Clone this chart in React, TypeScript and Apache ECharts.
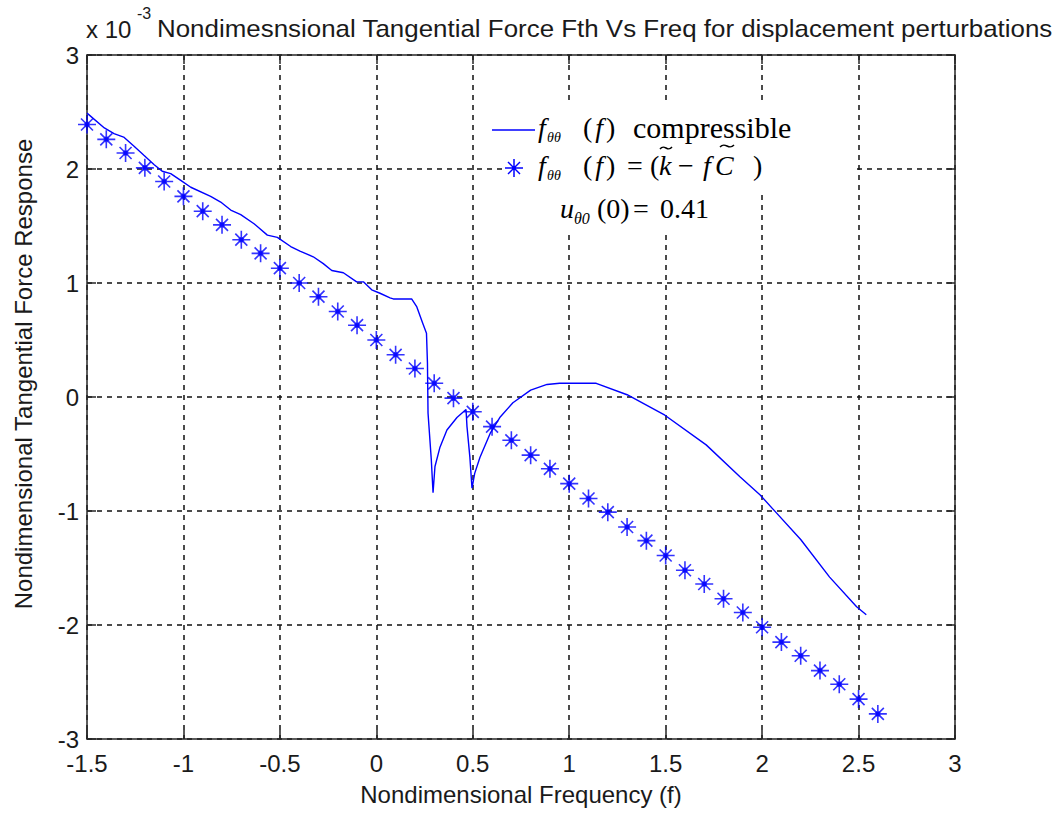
import { useEffect, useRef } from "react";
import * as echarts from "echarts";

// Nondimensional tangential force response vs frequency (values in units of 1e-3)
const curveFreq = [
  -1.5, -1.41, -1.36, -1.31, -1.256, -1.205, -1.153, -1.11, -1.066, -1.014,
  -0.962, -0.859, -0.807, -0.755, -0.703, -0.634, -0.565, -0.513, -0.444, -0.396,
  -0.327, -0.275, -0.231, -0.171, -0.102, -0.067, -0.024, 0.019, 0.071, 0.088,
  0.183, 0.21, 0.24, 0.26, 0.265, 0.268, 0.285, 0.294, 0.304, 0.33,
  0.366, 0.418, 0.465, 0.47, 0.485, 0.496, 0.51, 0.537, 0.59, 0.64,
  0.708, 0.8, 0.885, 0.95, 1.14, 1.3, 1.496, 1.71, 1.885, 1.99,
  2.06, 2.2, 2.35, 2.49, 2.54,
];
const curveForce = [
  2.49, 2.36, 2.31, 2.28, 2.2, 2.12, 2.04, 1.98, 1.96, 1.9,
  1.84, 1.76, 1.71, 1.64, 1.6, 1.52, 1.42, 1.4, 1.32, 1.28,
  1.23, 1.17, 1.11, 1.09, 1.01, 1.01, 0.94, 0.91, 0.87, 0.86,
  0.86, 0.79, 0.65, 0.56, 0.3, -0.14, -0.55, -0.84, -0.61, -0.44,
  -0.29, -0.18, -0.11, -0.26, -0.53, -0.8, -0.67, -0.53, -0.32, -0.18,
  -0.05, 0.06, 0.11, 0.12, 0.12, 0.02, -0.16, -0.42, -0.7, -0.86,
  -0.99, -1.25, -1.58, -1.84, -1.91,
];

// Stiffness/damping estimate (k - fC), sampled every 0.1
const starFreq = [
  -1.5, -1.4, -1.3, -1.2, -1.1, -1.0, -0.9, -0.8, -0.7, -0.6, -0.5,
  -0.4, -0.3, -0.2, -0.1, 0.0, 0.1, 0.2, 0.3, 0.4, 0.5,
  0.6, 0.7, 0.8, 0.9, 1.0, 1.1, 1.2, 1.3, 1.4, 1.5,
  1.6, 1.7, 1.8, 1.9, 2.0, 2.1, 2.2, 2.3, 2.4, 2.5, 2.6,
];
const starForce = [
  2.39, 2.26, 2.14, 2.01, 1.89, 1.76, 1.63, 1.51, 1.38, 1.26, 1.13,
  1.0, 0.88, 0.75, 0.63, 0.5, 0.37, 0.25, 0.12, -0.01, -0.13,
  -0.26, -0.38, -0.51, -0.63, -0.76, -0.89, -1.01, -1.14, -1.26, -1.39,
  -1.52, -1.64, -1.77, -1.89, -2.02, -2.15, -2.27, -2.4, -2.52, -2.65, -2.78,
];

const titleText =
  "Nondimesnsional Tangential Force Fth Vs Freq for displacement perturbations";
const xAxisTitle = "Nondimensional Frequency (f)";
const yAxisTitle = "Nondimensional Tangential Force Response";

const BLUE = "#0000ff";
const SANS = "'Liberation Sans', Arial, sans-serif";
const SERIF = "'Liberation Serif', 'Times New Roman', serif";
const STAR_PATH =
  "path://M0,-9L0,9M-9,0L9,0M-6,-6L6,6M-6,6L6,-6M-2,-2L2,-2L2,2L-2,2Z";

function txt(x: number, y: number, text: string, extra: any = {}) {
  return {
    type: "text",
    x,
    y,
    z: 20,
    style: {
      text,
      fill: "#000",
      fontFamily: SERIF,
      fontSize: 28,
      verticalAlign: "middle",
      ...extra,
    },
  };
}

function italic(x: number, y: number, text: string, size = 28) {
  return txt(x, y, text, { fontStyle: "italic", fontSize: size });
}

function parenF(x: number, y: number) {
  return txt(x, y, "{n|(}{i|f}{n|)}", {
    rich: {
      n: { fontFamily: SERIF, fontSize: 28 },
      i: { fontFamily: SERIF, fontSize: 28, fontStyle: "italic", padding: [0, 3, 0, 3] },
    },
  });
}

// small wavy accent drawn above a letter
function tilde(x: number, y: number, w: number) {
  return {
    type: "bezierCurve",
    z: 20,
    shape: {
      x1: x,
      y1: y + 1,
      x2: x + w,
      y2: y - 1,
      cpx1: x + w * 0.4,
      cpy1: y - 5,
      cpx2: x + w * 0.6,
      cpy2: y + 5,
    },
    style: { stroke: "#000", lineWidth: 1.5, fill: "none" },
  };
}

function legendStar(cx: number, cy: number) {
  const seg = (x1: number, y1: number, x2: number, y2: number) => ({
    type: "line",
    shape: { x1: cx + x1, y1: cy + y1, x2: cx + x2, y2: cy + y2 },
    style: { stroke: BLUE, lineWidth: 1.5 },
    z: 20,
  });
  return {
    type: "group",
    children: [
      seg(0, -9, 0, 9),
      seg(-9, 0, 9, 0),
      seg(-6, -6, 6, 6),
      seg(-6, 6, 6, -6),
      { type: "rect", shape: { x: cx - 2, y: cy - 2, width: 4, height: 4 }, style: { fill: BLUE }, z: 20 },
    ],
  };
}

export default function App() {
  const ref = useRef<HTMLDivElement>(null);

  useEffect(() => {
    if (!ref.current) return;
    const chart = echarts.init(ref.current, undefined, { renderer: "svg" });

    const axisLine = { show: true, onZero: false, lineStyle: { color: "#262626", width: 1.5 } };
    const axisTick = { show: true, inside: true, length: 9, lineStyle: { color: "#262626", width: 1.5 } };
    const splitLine = { show: true, lineStyle: { color: "#111", width: 1.5, type: [5, 5] } };
    const tickLabel = { color: "#1a1a1a", fontFamily: SANS, fontSize: 24 };

    const row1 = 127;
    const row2 = 165;
    const row3 = 208;

    chart.setOption({
      animation: false,
      backgroundColor: "#fff",
      grid: { left: 87, right: 105, top: 55, bottom: 75, containLabel: false },
      xAxis: [
        {
          type: "value",
          min: -1.5,
          max: 3,
          interval: 0.5,
          axisLine,
          axisTick,
          splitLine,
          axisLabel: { ...tickLabel, margin: 12 },
        },
        {
          type: "value",
          position: "top",
          min: -1.5,
          max: 3,
          interval: 0.5,
          axisLine,
          axisTick,
          splitLine: { show: false },
          axisLabel: { show: false },
        },
      ],
      yAxis: [
        {
          type: "value",
          min: -3,
          max: 3,
          interval: 1,
          axisLine,
          axisTick,
          splitLine,
          axisLabel: { ...tickLabel, margin: 8 },
        },
        {
          type: "value",
          position: "right",
          min: -3,
          max: 3,
          interval: 1,
          axisLine,
          axisTick,
          splitLine: { show: false },
          axisLabel: { show: false },
        },
      ],
      series: [
        {
          name: "compressible",
          type: "line",
          data: curveFreq.map((f, i) => [f, curveForce[i]]),
          showSymbol: false,
          symbol: "none",
          lineStyle: { color: BLUE, width: 1.4 },
          z: 3,
        },
        {
          name: "k - fC",
          type: "scatter",
          data: starFreq.map((f, i) => [f, starForce[i]]),
          symbol: STAR_PATH,
          symbolSize: 18,
          itemStyle: { color: BLUE, borderColor: BLUE, borderWidth: 1.6 },
          z: 4,
        },
      ],
      graphic: [
        // title and exponent
        { type: "text", x: 86, y: 29, style: { text: "x 10", font: `24px ${SANS}`, fill: "#1a1a1a", verticalAlign: "middle" } },
        { type: "text", x: 137, y: 13, style: { text: "-3", font: `16px ${SANS}`, fill: "#1a1a1a", verticalAlign: "middle" } },
        {
          type: "text",
          x: 157,
          y: 28,
          scaleX: 1.08,
          style: { text: titleText, font: `24px ${SANS}`, fill: "#1a1a1a", verticalAlign: "middle" },
        },
        // axis titles
        { type: "text", x: 521, y: 794, style: { text: xAxisTitle, font: `24px ${SANS}`, fill: "#1a1a1a", align: "center", verticalAlign: "middle" } },
        {
          type: "text",
          x: 23,
          y: 374,
          rotation: Math.PI / 2,
          style: { text: yAxisTitle, font: `24px ${SANS}`, fill: "#1a1a1a", align: "center", verticalAlign: "middle" },
        },
        // legend background and annotation background
        { type: "rect", z: 10, shape: { x: 503, y: 100, width: 352, height: 93 }, style: { fill: "#fff" } },
        { type: "rect", z: 10, shape: { x: 550, y: 193, width: 190, height: 42 }, style: { fill: "#fff" } },
        // legend entry 1
        { type: "line", z: 20, shape: { x1: 492, y1: 130, x2: 535, y2: 130 }, style: { stroke: BLUE, lineWidth: 1.4 } },
        italic(538, row1, "f"),
        italic(547, row1 + 10, "θθ", 14),
        parenF(583, row1),
        txt(633, row1, "compressible", { fontSize: 30 }),
        // legend entry 2
        legendStar(514, 168),
        italic(538, row2, "f"),
        italic(547, row2 + 10, "θθ", 14),
        parenF(583, row2),
        txt(627, row2, "="),
        txt(650, row2, "("),
        italic(659, row2, "k"),
        tilde(660, 148, 12),
        txt(678, row2, "−"),
        italic(703, row2, "f"),
        italic(715, row2, "C"),
        tilde(720, 146, 14),
        txt(753, row2, ")"),
        // annotation
        italic(560, row3, "u"),
        italic(574, row3 + 10, "θ0", 16),
        txt(597, row3, "(0)"),
        txt(633, row3, "="),
        txt(660, row3, "0.41"),
      ],
    });

    return () => chart.dispose();
  }, []);

  return (
    <div
      ref={ref}
      style={{ position: "fixed", left: 0, top: 0, width: 1060, height: 814, background: "#fff" }}
    />
  );
}
